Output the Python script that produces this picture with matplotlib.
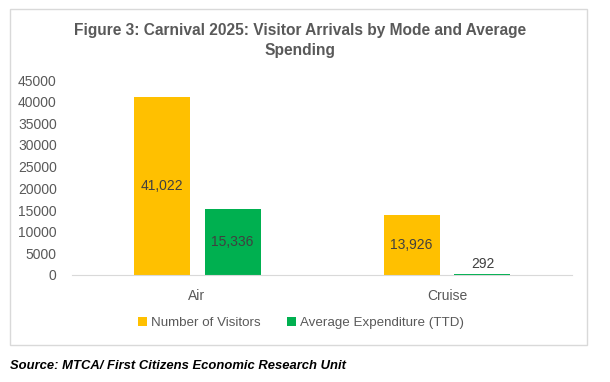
import matplotlib.pyplot as plt
import numpy as np
from matplotlib.patches import Rectangle

# data
modes = ['Air', 'Cruise']
visitors = [41022, 13926]
avg_spend = [15336, 292]
series_names = ['Number of Visitors', 'Average Expenditure (TTD)']
yticks = [0, 5000, 10000, 15000, 20000, 25000, 30000, 35000, 40000, 45000]

yellow = '#FFC000'
green = '#00B050'
txt = '#595959'

plt.rcParams['font.family'] = ['Liberation Sans', 'DejaVu Sans']

fig = plt.figure(figsize=(6.1, 3.82), dpi=100)
W, H = 610, 382

# outer chart border
fig.patches.append(Rectangle((10 / W, 1 - 345 / H), 577 / W, 336 / H,
                             transform=fig.transFigure, fill=False,
                             edgecolor='#D9D9D9', linewidth=1))

ax = fig.add_axes([72 / W, 1 - 275 / H, 500 / W, 195 / H])
x = np.arange(len(modes))
bw = 0.224
off = 0.142
b1 = ax.bar(x - off, visitors, bw, color=yellow, label=series_names[0])
b2 = ax.bar(x + off, avg_spend, bw, color=green, label=series_names[1])

for bars in (b1, b2):
    for rect in bars:
        v = rect.get_height()
        cx = rect.get_x() + rect.get_width() / 2
        if v > 3000:
            ax.text(cx, v / 2, f'{v:,.0f}', ha='center', va='center',
                    fontsize=10, color='#404040')
        else:
            ax.text(cx, v + 700, f'{v:,.0f}', ha='center', va='bottom',
                    fontsize=10, color='#404040')

ax.set_xlim(-0.5, 1.5)
ax.set_ylim(0, 45000)
ax.set_yticks(yticks)
ax.set_yticklabels([str(t) for t in yticks])
ax.set_xticks(x)
ax.set_xticklabels(modes)
ax.tick_params(axis='both', length=0, labelsize=10, colors=txt)
ax.tick_params(axis='x', pad=10)
ax.tick_params(axis='y', pad=11)
for s in ['top', 'right', 'left']:
    ax.spines[s].set_visible(False)
ax.spines['bottom'].set_color('#D9D9D9')

fig.text(300 / W, 1 - 30 / H, 'Figure 3: Carnival 2025: Visitor Arrivals by Mode and Average',
         ha='center', va='center', fontsize=11.2, fontweight='bold', color=txt)
fig.text(300 / W, 1 - 51 / H, 'Spending',
         ha='center', va='center', fontsize=11.2, fontweight='bold', color=txt)

fig.legend(handles=[b1, b2], loc='center', bbox_to_anchor=(301 / W, 1 - 323 / H),
           ncol=2, frameon=False, fontsize=9.6, labelcolor=txt,
           handlelength=0.7, handleheight=0.7, handletextpad=0.3, columnspacing=2.0)

fig.text(10 / W, 1 - 366 / H, 'Source: MTCA/ First Citizens Economic Research Unit',
         ha='left', va='center', fontsize=9.4, fontweight='bold', fontstyle='italic',
         color='black')

fig.savefig('out.png', dpi=100)
